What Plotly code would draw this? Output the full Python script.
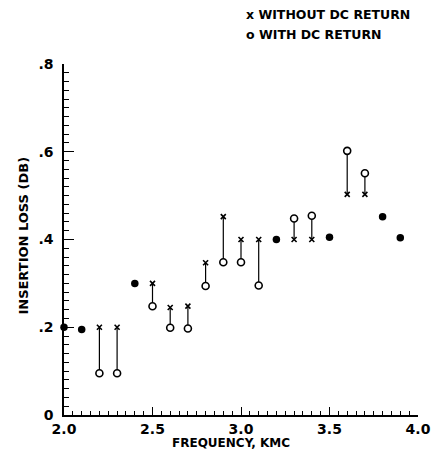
import plotly.graph_objects as go

# Data
freq = [2.0, 2.1, 2.2, 2.3, 2.4, 2.5, 2.6, 2.7, 2.8, 2.9,
        3.0, 3.1, 3.2, 3.3, 3.4, 3.5, 3.6, 3.7, 3.8, 3.9]
without_dc = [0.20, 0.195, 0.20, 0.20, 0.30, 0.30, 0.245, 0.248, 0.347, 0.452,
              0.40, 0.40, 0.40, 0.40, 0.40, 0.405, 0.503, 0.503, 0.452, 0.404]
with_dc = [0.20, 0.195, 0.095, 0.095, 0.30, 0.248, 0.199, 0.197, 0.294, 0.348,
           0.348, 0.295, 0.40, 0.448, 0.454, 0.405, 0.602, 0.551, 0.452, 0.404]

x_ticks = [2.0, 2.5, 3.0, 3.5, 4.0]
x_ticktext = ["2.0", "2.5", "3.0", "3.5", "4.0"]
y_ticks = [0, 0.2, 0.4, 0.6, 0.8]
y_ticktext = ["0", ".2", ".4", ".6", ".8"]

FONT = "DejaVu Sans"

# split into coincident (filled dot) and distinct pairs
same_x, same_y = [], []
dx, dy_wo, dy_w = [], [], []
seg_x, seg_y = [], []
for f, a, b in zip(freq, without_dc, with_dc):
    if abs(a - b) < 1e-9:
        same_x.append(f)
        same_y.append(a)
    else:
        dx.append(f)
        dy_wo.append(a)
        dy_w.append(b)
        seg_x += [f, f, None]
        seg_y += [a, b, None]

fig = go.Figure()
fig.add_trace(go.Scatter(x=seg_x, y=seg_y, mode="lines",
                         line=dict(color="black", width=1.2),
                         hoverinfo="skip", showlegend=False, cliponaxis=False))
fig.add_trace(go.Scatter(x=dx, y=dy_wo, mode="markers",
                         marker=dict(symbol="x-thin", size=5, color="black",
                                     line=dict(color="black", width=1.6)),
                         name="WITHOUT DC RETURN", showlegend=False, cliponaxis=False))
fig.add_trace(go.Scatter(x=dx, y=dy_w, mode="markers",
                         marker=dict(symbol="circle", size=7, color="white",
                                     line=dict(color="black", width=1.6)),
                         name="WITH DC RETURN", showlegend=False, cliponaxis=False))
fig.add_trace(go.Scatter(x=same_x, y=same_y, mode="markers",
                         marker=dict(symbol="circle", size=7.5, color="black",
                                     line=dict(color="black", width=0)),
                         showlegend=False, cliponaxis=False))

L, R, T, B = 64, 20, 64, 41
W, H = 443, 456
pw, ph = W - L - R, H - T - B


def px(x):
    return (x - L) / pw


def py(y):
    return (H - B - y) / ph


annots = [
    dict(text="x WITHOUT DC RETURN", x=px(247), y=py(15), xanchor="left", yanchor="middle", size=12.5),
    dict(text="o WITH DC RETURN", x=px(247), y=py(35), xanchor="left", yanchor="middle", size=12.5),
    dict(text="FREQUENCY, KMC", x=px(233), y=py(443), xanchor="center", yanchor="middle", size=12),
    dict(text="INSERTION LOSS (DB)", x=px(22), y=py(236), xanchor="center", yanchor="middle",
         textangle=-90, size=13),
]
anns = []
for a in annots:
    a = dict(a)
    s = a.pop("size")
    anns.append(dict(a, xref="paper", yref="paper", showarrow=False,
                     font=dict(family=FONT, size=s, color="black", weight="bold")))

fig.update_layout(
    annotations=anns,
    width=W, height=H,
    margin=dict(l=L, r=R, t=T, b=B, pad=0),
    paper_bgcolor="white", plot_bgcolor="white",
    xaxis=dict(range=[2.0, 4.0], showgrid=False, zeroline=False,
               showline=True, linecolor="black", linewidth=1.5,
               ticks="inside", ticklen=8, tickwidth=1.3, tickcolor="black",
               tickvals=x_ticks, ticktext=x_ticktext,
               tickfont=dict(family=FONT, size=14, color="black", weight="bold"),
               minor=dict(dtick=0.05, tick0=2.0, ticks="inside", ticklen=4,
                          tickwidth=1, tickcolor="black", showgrid=False)),
    yaxis=dict(range=[0, 0.8], showgrid=False, zeroline=False,
               showline=True, linecolor="black", linewidth=1.5,
               ticks="inside", ticklen=10, tickwidth=1.3, tickcolor="black",
               tickvals=y_ticks, ticktext=y_ticktext,
               ticklabelstandoff=6,
               tickfont=dict(family=FONT, size=14, color="black", weight="bold"),
               minor=dict(dtick=0.02, tick0=0, ticks="inside", ticklen=5,
                          tickwidth=1, tickcolor="black", showgrid=False)),
)

fig.write_html("out.html", config={"displayModeBar": False},
               post_script="document.body.style.margin='0';document.body.style.padding='0';")
